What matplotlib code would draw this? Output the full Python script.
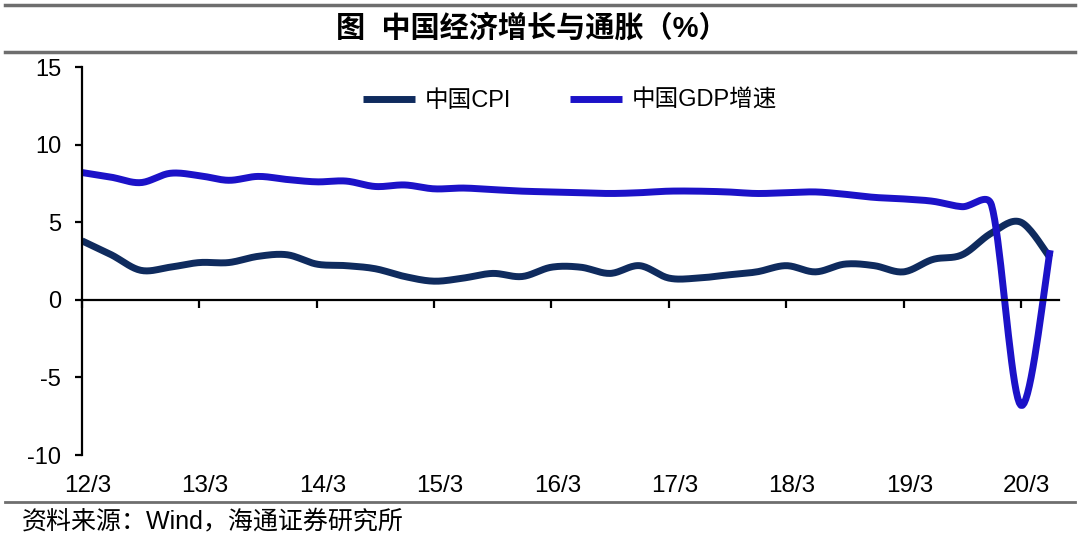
import numpy as np
import matplotlib.pyplot as plt
from matplotlib import transforms
from matplotlib.lines import Line2D

plt.rcParams['font.family'] = ['Liberation Sans', 'Noto Sans CJK SC']
plt.rcParams['axes.unicode_minus'] = False

# quarterly data, 2012Q1 .. 2020Q2
quarters = np.arange(34)
cpi = [3.8, 2.9, 1.9, 2.1, 2.4, 2.4, 2.8, 2.9,
       2.3, 2.2, 2.0, 1.5, 1.2, 1.4, 1.7, 1.5,
       2.1, 2.1, 1.7, 2.2, 1.4, 1.4, 1.6, 1.8,
       2.2, 1.8, 2.3, 2.2, 1.8, 2.6, 2.9, 4.3,
       5.0, 2.7]
gdp = [8.2, 7.9, 7.55, 8.15, 8.0, 7.7, 7.95, 7.75,
       7.6, 7.65, 7.3, 7.4, 7.15, 7.2, 7.1, 7.0,
       6.95, 6.9, 6.85, 6.9, 7.0, 7.0, 6.95, 6.85,
       6.9, 6.95, 6.8, 6.6, 6.5, 6.35, 6.0, 6.1,
       -6.8, 3.2]
tick_pos = [0, 4, 8, 12, 16, 20, 24, 28, 32]
tick_labels = ['12/3', '13/3', '14/3', '15/3', '16/3', '17/3', '18/3', '19/3', '20/3']


def smooth(x, y, sx=29.35, sy=15.5, n=20):
    # bezier smoothing roughly like a spreadsheet "smoothed line"
    pts = np.column_stack([np.asarray(x, float) * sx, np.asarray(y, float) * sy])
    k = len(pts)
    out = [pts[0]]
    for i in range(k - 1):
        p0 = pts[max(i - 1, 0)]
        p1 = pts[i]
        p2 = pts[i + 1]
        p3 = pts[min(i + 2, k - 1)]
        seg = np.linalg.norm(p2 - p1)
        a1 = (p2 - p0) / 6
        a2 = (p3 - p1) / 6
        cap = seg * 0.5
        if np.linalg.norm(a1) > cap:
            a1 = a1 / np.linalg.norm(a1) * cap
        if np.linalg.norm(a2) > cap:
            a2 = a2 / np.linalg.norm(a2) * cap
        c1 = p1 + a1
        c2 = p2 - a2
        t = np.linspace(0, 1, n)[1:, None]
        b = (1 - t)**3 * p1 + 3 * (1 - t)**2 * t * c1 + 3 * (1 - t) * t**2 * c2 + t**3 * p2
        out.extend(b)
    out = np.array(out)
    return out[:, 0] / sx, out[:, 1] / sy


fig = plt.figure(figsize=(10.8, 5.38), dpi=100)
ax = fig.add_axes([82/1080, 1 - 455/538, (1059 - 82)/1080, 388/538])

cx, cy = smooth(quarters, cpi)
gx, gy = smooth(quarters, gdp)
ax.plot(cx, cy, color='#0f2b5e', lw=5, solid_capstyle='butt', label='中国CPI')
ax.plot(gx, gy, color='#1c12c8', lw=5, solid_capstyle='butt', label='中国GDP增速')

ax.set_xlim(0, 33.3)
ax.set_ylim(-10, 15)
ax.set_yticks([-10, -5, 0, 5, 10, 15])

for s in ['top', 'right']:
    ax.spines[s].set_visible(False)
ax.spines['bottom'].set_position(('data', 0))
ax.spines['bottom'].set_linewidth(1.6)
ax.spines['left'].set_linewidth(1.6)

ax.set_xticks(tick_pos)
ax.tick_params(axis='x', direction='out', length=6, width=1.6, labelbottom=False)
ax.tick_params(axis='y', direction='out', length=5, width=1.6, labelsize=17, pad=10)

trans = transforms.blended_transform_factory(ax.transData, ax.transAxes)
for p, lab in zip(tick_pos, tick_labels):
    ax.text(p + 0.2, -0.08, lab, transform=trans, ha='center', va='center', fontsize=17.5)

ax.legend(loc='center', bbox_to_anchor=(570/1080, 1 - 101/538), bbox_transform=fig.transFigure,
          ncol=2, frameon=False, fontsize=17, handlelength=2.2, handletextpad=0.4,
          columnspacing=2.5)

# header / footer rules and text
fig.add_artist(Line2D([5/1080, 1075/1080], [1 - 5/538] * 2, color='#6e6e6e', lw=2.5))
fig.add_artist(Line2D([5/1080, 1075/1080], [1 - 52/538] * 2, color='#6e6e6e', lw=2.5))
fig.add_artist(Line2D([5/1080, 1075/1080], [1 - 502/538] * 2, color='#6e6e6e', lw=2))

fig.text(532/1080, 1 - 28/538, '图  中国经济增长与通胀（%）', ha='center', va='center',
         fontsize=21, fontweight='bold')
fig.text(22/1080, 1 - 521/538, '资料来源：Wind，海通证券研究所', ha='left', va='center',
         fontsize=18)

fig.savefig('out.png', dpi=100)
